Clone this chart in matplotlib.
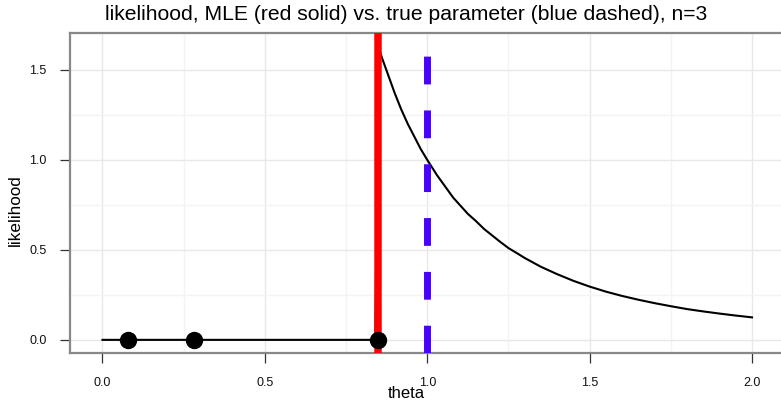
import numpy as np
import matplotlib
matplotlib.use("Agg")
import matplotlib.pyplot as plt
from matplotlib.ticker import MultipleLocator

plt.rcParams['font.family'] = ['Liberation Sans', 'DejaVu Sans']

# likelihood curve
theta = [0.0, 0.84, 0.85, 0.86, 0.87, 0.88, 0.90, 0.92, 0.94, 0.96, 0.98, 1.00,
         1.03, 1.06, 1.08, 1.10, 1.125, 1.15, 1.175, 1.20, 1.225, 1.25, 1.275,
         1.30, 1.35, 1.40, 1.45, 1.50, 1.55, 1.60, 1.65, 1.70, 1.75, 1.80,
         1.85, 1.90, 1.95, 2.00]
lik = [0.0, 0.0, 1.63, 1.57, 1.52, 1.47, 1.37, 1.28, 1.20, 1.13, 1.06, 1.00,
       0.915, 0.84, 0.79, 0.75, 0.70, 0.66, 0.616, 0.58, 0.544, 0.51, 0.483,
       0.455, 0.406, 0.365, 0.328, 0.296, 0.268, 0.244, 0.223, 0.204, 0.187,
       0.171, 0.158, 0.146, 0.135, 0.125]

# observed sample
samples = [0.08, 0.283, 0.848]
mle = 0.848
true_theta = 1.0

W, H = 781, 401
fig = plt.figure(figsize=(W / 100, H / 100), dpi=100)
ax = fig.add_axes([70 / W, (H - 353) / H, (784.5 - 70) / W, (353 - 33) / H])

ax.plot(theta, lik, color='black', lw=1.5, zorder=3)
ax.axvline(mle, color='#ff0000', lw=5.4, zorder=4)
ax.axvline(true_theta, color='#4a00ff', lw=5.0, dashes=(4.0, 3.75), zorder=4)
ax.plot(samples, np.zeros(len(samples)), 'o', color='black', ms=11.5, zorder=5)

ax.set_xlim(-0.1, 2.1)
ax.set_ylim(-0.073, 1.705)
ax.xaxis.set_major_locator(MultipleLocator(0.5))
ax.xaxis.set_minor_locator(MultipleLocator(0.25))
ax.yaxis.set_major_locator(MultipleLocator(0.5))
ax.yaxis.set_minor_locator(MultipleLocator(0.25))
ax.grid(which='major', color='#e8e8e8', lw=1.0, zorder=0)
ax.grid(which='minor', color='#f4f4f4', lw=1.0, zorder=0)
ax.tick_params(which='minor', length=0)
ax.tick_params(which='major', direction='out', length=7, width=0.9, color='#333333',
               labelsize=9, labelcolor='#111111', pad=10)
ax.set_xticklabels(['%.1f' % v for v in ax.get_xticks()])
ax.set_yticklabels(['%.1f' % v for v in ax.get_yticks()])
for s in ax.spines.values():
    s.set_color('#888888')
    s.set_linewidth(1.6)

fig.text(406 / W, 1 - 14 / H,
         'likelihood, MLE (red solid) vs. true parameter (blue dashed), n=3',
         ha='center', va='center', fontsize=15.2)
fig.text(406 / W, 1 - 393 / H, 'theta', ha='center', va='center', fontsize=12)
fig.text(15 / W, 1 - 210 / H, 'likelihood', ha='center', va='center',
         rotation=90, fontsize=12.3)

fig.savefig('out.png', dpi=100)
